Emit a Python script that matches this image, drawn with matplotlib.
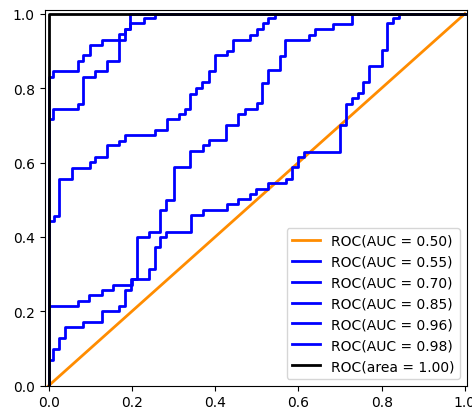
import matplotlib
matplotlib.use("Agg")
import matplotlib.pyplot as plt

# Diagonal (chance) curve
fpr_050 = [0.0, 1.0]
tpr_050 = [0.0, 1.0]

# AUC = 0.55
fpr_055 = [0.0, 0.0, 0.010, 0.010, 0.025, 0.025, 0.039, 0.039, 0.083, 0.083, 0.127, 0.127,
           0.169, 0.169, 0.183, 0.183, 0.199, 0.199, 0.240, 0.240, 0.255, 0.255, 0.268, 0.268,
           0.282, 0.282, 0.342, 0.342, 0.370, 0.370, 0.428, 0.428, 0.456, 0.456, 0.484, 0.484,
           0.499, 0.499, 0.528, 0.528, 0.570, 0.570, 0.584, 0.584, 0.599, 0.599, 0.613, 0.613,
           0.700, 0.700, 0.714, 0.714, 0.728, 0.728, 0.743, 0.743, 0.756, 0.756, 0.770, 0.770,
           0.800, 0.800, 0.813, 0.813, 0.828, 0.828, 0.841, 0.841, 1.0]
tpr_055 = [0.0, 0.069, 0.069, 0.099, 0.099, 0.127, 0.127, 0.157, 0.157, 0.171, 0.171, 0.200,
           0.200, 0.214, 0.214, 0.257, 0.257, 0.286, 0.286, 0.313, 0.313, 0.372, 0.372, 0.399,
           0.399, 0.414, 0.414, 0.459, 0.459, 0.472, 0.472, 0.488, 0.488, 0.501, 0.501, 0.515,
           0.515, 0.528, 0.528, 0.546, 0.546, 0.556, 0.556, 0.587, 0.587, 0.616, 0.616, 0.629,
           0.629, 0.702, 0.702, 0.758, 0.758, 0.774, 0.774, 0.787, 0.787, 0.817, 0.817, 0.860,
           0.860, 0.903, 0.903, 0.975, 0.975, 0.988, 0.988, 1.0, 1.0]

# AUC = 0.70
fpr_070 = [0.0, 0.0, 0.070, 0.070, 0.098, 0.098, 0.127, 0.127, 0.155, 0.155, 0.200, 0.200,
           0.212, 0.212, 0.240, 0.240, 0.268, 0.268, 0.283, 0.283, 0.300, 0.300, 0.340, 0.340,
           0.370, 0.370, 0.385, 0.385, 0.427, 0.427, 0.456, 0.456, 0.472, 0.472, 0.500, 0.500,
           0.512, 0.512, 0.528, 0.528, 0.556, 0.556, 0.568, 0.568, 0.626, 0.626, 0.641, 0.641,
           0.684, 0.684, 0.729, 0.729, 1.0]
tpr_070 = [0.0, 0.213, 0.213, 0.228, 0.228, 0.244, 0.244, 0.257, 0.257, 0.271, 0.271, 0.286,
           0.286, 0.399, 0.399, 0.413, 0.413, 0.472, 0.472, 0.500, 0.500, 0.587, 0.587, 0.632,
           0.632, 0.648, 0.648, 0.660, 0.660, 0.702, 0.702, 0.730, 0.730, 0.745, 0.745, 0.759,
           0.759, 0.815, 0.815, 0.848, 0.848, 0.887, 0.887, 0.930, 0.930, 0.944, 0.944, 0.958,
           0.958, 0.973, 0.973, 1.0, 1.0]

# AUC = 0.85
fpr_085 = [0.0, 0.0, 0.012, 0.012, 0.026, 0.026, 0.055, 0.055, 0.099, 0.099, 0.112, 0.112,
           0.140, 0.140, 0.169, 0.169, 0.184, 0.184, 0.256, 0.256, 0.284, 0.284, 0.312, 0.312,
           0.327, 0.327, 0.340, 0.340, 0.355, 0.355, 0.368, 0.368, 0.384, 0.384, 0.399, 0.399,
           0.428, 0.428, 0.442, 0.442, 0.484, 0.484, 0.500, 0.500, 0.514, 0.514, 0.528, 0.528,
           0.543, 0.543, 1.0]
tpr_085 = [0.0, 0.443, 0.443, 0.456, 0.456, 0.555, 0.555, 0.586, 0.586, 0.601, 0.601, 0.614,
           0.614, 0.646, 0.646, 0.659, 0.659, 0.673, 0.673, 0.688, 0.688, 0.716, 0.716, 0.730,
           0.730, 0.745, 0.745, 0.785, 0.785, 0.801, 0.801, 0.816, 0.816, 0.846, 0.846, 0.888,
           0.888, 0.901, 0.901, 0.929, 0.929, 0.944, 0.944, 0.959, 0.959, 0.974, 0.974, 0.989,
           0.989, 1.0, 1.0]

# AUC = 0.96
fpr_096 = [0.0, 0.0, 0.011, 0.011, 0.070, 0.070, 0.083, 0.083, 0.112, 0.112, 0.140, 0.140,
           0.169, 0.169, 0.183, 0.183, 0.196, 0.196, 0.228, 0.228, 0.256, 0.256, 1.0]
tpr_096 = [0.0, 0.716, 0.716, 0.745, 0.745, 0.758, 0.758, 0.830, 0.830, 0.846, 0.846, 0.873,
           0.873, 0.945, 0.945, 0.958, 0.958, 0.974, 0.974, 0.988, 0.988, 1.0, 1.0]

# AUC = 0.98
fpr_098 = [0.0, 0.0, 0.011, 0.011, 0.070, 0.070, 0.083, 0.083, 0.099, 0.099, 0.127, 0.127,
           0.183, 0.183, 0.196, 0.196, 1.0]
tpr_098 = [0.0, 0.830, 0.830, 0.846, 0.846, 0.873, 0.873, 0.888, 0.888, 0.915, 0.915, 0.930,
           0.930, 0.958, 0.958, 1.0, 1.0]

# Perfect classifier
fpr_100 = [0.0, 0.0, 1.0]
tpr_100 = [0.0, 1.0, 1.0]

labels = ["ROC(AUC = 0.50)", "ROC(AUC = 0.55)", "ROC(AUC = 0.70)", "ROC(AUC = 0.85)",
          "ROC(AUC = 0.96)", "ROC(AUC = 0.98)", "ROC(area = 1.00)"]

fig = plt.figure(figsize=(4.72, 4.10), dpi=100)
ax = fig.add_axes([44.5 / 472, 23.3 / 410, (467 - 44.5) / 472, (386.7 - 11) / 410])

ax.plot(fpr_050, tpr_050, color="darkorange", lw=2, label=labels[0])
ax.plot(fpr_055, tpr_055, color="blue", lw=2, label=labels[1])
ax.plot(fpr_070, tpr_070, color="blue", lw=2, label=labels[2])
ax.plot(fpr_085, tpr_085, color="blue", lw=2, label=labels[3])
ax.plot(fpr_096, tpr_096, color="blue", lw=2, label=labels[4])
ax.plot(fpr_098, tpr_098, color="blue", lw=2, label=labels[5])
ax.plot(fpr_100, tpr_100, color="black", lw=2, label=labels[6])

ax.set_xlim(-0.01, 1.005)
ax.set_ylim(0.0, 1.01)
ax.set_xticks([0.0, 0.2, 0.4, 0.6, 0.8, 1.0])
ax.set_yticks([0.0, 0.2, 0.4, 0.6, 0.8, 1.0])
ax.legend(loc="lower right")

fig.savefig("out.png", dpi=100)
